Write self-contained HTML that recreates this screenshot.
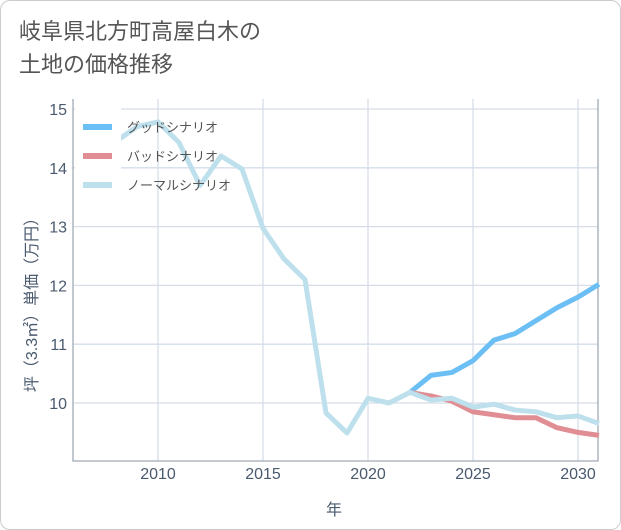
<!DOCTYPE html>
<html><head><meta charset="utf-8"><style>
body{margin:0;background:#fff;}
.card{position:absolute;left:0;top:0;width:619px;height:528px;border:1px solid #ccc;border-radius:10px;background:#fff;overflow:hidden;font-family:"Liberation Sans","Noto Sans CJK JP",sans-serif;}
.title{position:absolute;left:18px;top:14px;font-size:22px;line-height:33px;color:#555;}
</style></head><body>
<div class="card">
<div class="title">岐阜県北方町高屋白木の<br>土地の価格推移</div>
<svg id="chart" width="621" height="530" style="position:absolute;left:0;top:0"></svg>
</div>
<script>
const years=[2008,2009,2010,2011,2012,2013,2014,2015,2016,2017,2018,2019,2020,2021,2022,2023,2024,2025,2026,2027,2028,2029,2030,2031];
const normal=[14.45,14.7,14.78,14.43,13.7,14.2,13.98,12.97,12.45,12.1,9.83,9.49,10.08,10.0,10.18,10.05,10.08,9.93,9.98,9.88,9.85,9.75,9.78,9.65];
const goodYears=[2022,2023,2024,2025,2026,2027,2028,2029,2030,2031];
const good=[10.18,10.47,10.52,10.72,11.07,11.18,11.4,11.62,11.8,12.02];
const bad=[10.18,10.12,10.03,9.85,9.8,9.75,9.75,9.58,9.5,9.45];
const xTicks=[2010,2015,2020,2025,2030];
const yTicks=[10,11,12,13,14,15];
const legendLabels=["グッドシナリオ","バッドシナリオ","ノーマルシナリオ"];
const NS="http://www.w3.org/2000/svg";
const svg=document.getElementById('chart');
const L=72,R=597,T=98,B=460;
const x=v=>157+(v-2010)*21;
const y=v=>402-(v-10)*58.8;
function mk(tag,attrs,parent){const e=document.createElementNS(NS,tag);for(const k in attrs)e.setAttribute(k,attrs[k]);(parent||svg).appendChild(e);return e;}
for(const t of xTicks){
 const g=mk('line',{x1:x(t),x2:x(t),y1:T,y2:B,stroke:'#d5dee8','stroke-width':1.3});
 
 
 const tx=mk('text',{x:x(t),y:478,'text-anchor':'middle','font-size':16,fill:'#4a5a6e'});
 tx.textContent=t;
 
 
}
for(const t of yTicks){
 const g=mk('line',{x1:L,x2:R,y1:y(t),y2:y(t),stroke:'#d5dee8','stroke-width':1.3});
 
 
 const tx=mk('text',{x:66,y:y(t)+6,'text-anchor':'end','font-size':16,fill:'#4a5a6e'});
 tx.textContent=t;
 
 
}
const ax=mk('path',{d:`M${L},${T} L${L},${B} L${R},${B} L${R},${T}`,fill:'none',stroke:'#a0aab5','stroke-width':1.3});


function line(xs,vs,color,name){
 const p=mk('polyline',{points:xs.map((yr,i)=>x(yr)+','+y(vs[i])).join(' '),fill:'none',stroke:color,'stroke-width':5,'stroke-linejoin':'round'});
 
 
}
line(goodYears,good,'#6bbff5','good-scenario-line');
line(goodYears,bad,'#e08e94','bad-scenario-line');
line(years,normal,'#bde0ec','normal-scenario-line');
const lg=mk('rect',{x:74,y:105,width:46,height:90,fill:'#fff'});


const lc=['#6bbff5','#e08e94','#bde0ec'];
legendLabels.forEach((lab,i)=>{
 const yy=126+i*29;
 const s=mk('line',{x1:82,x2:111,y1:yy,y2:yy,stroke:lc[i],'stroke-width':6});
 
 
 const t=mk('text',{x:126,y:yy+5,'font-size':13,fill:'#555'});
 t.textContent=lab;
 
 
});
const xt=mk('text',{x:333,y:514,'text-anchor':'middle','font-size':16,fill:'#4a5a6e'});
xt.textContent='年';


const yt=mk('text',{x:0,y:0,'text-anchor':'middle','font-size':16,fill:'#4a5a6e',transform:'translate(36,300) rotate(-90)'});
yt.textContent='坪（3.3㎡）単価（万円）';


</script>
</body></html>
